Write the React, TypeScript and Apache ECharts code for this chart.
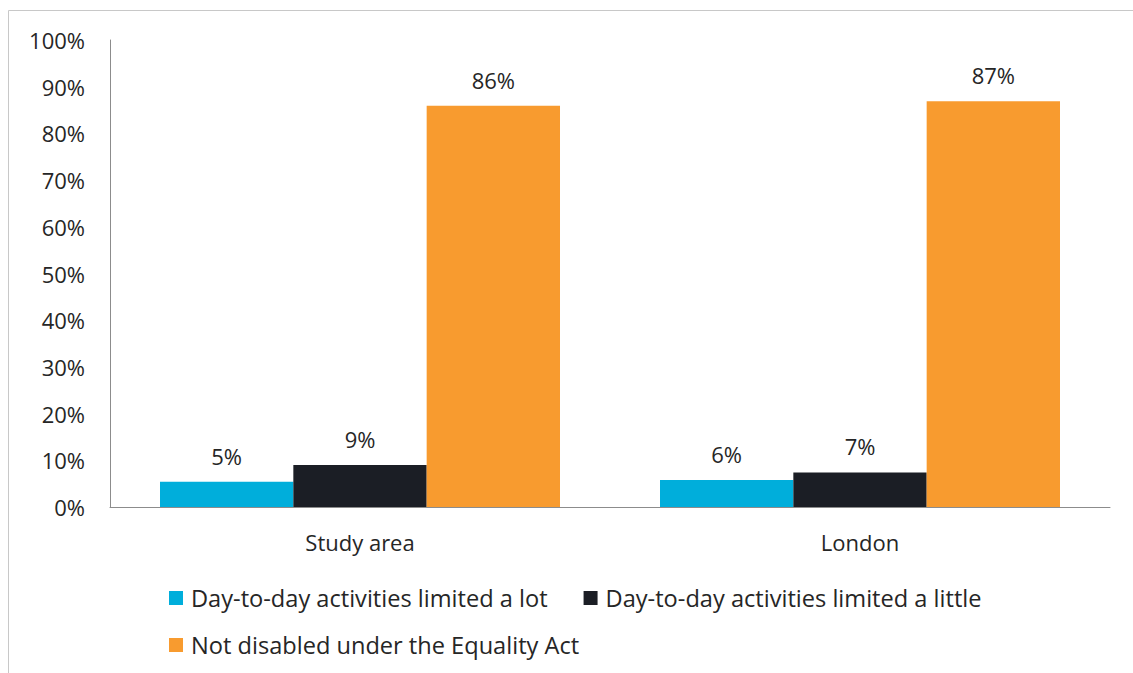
import React, { useEffect, useRef } from "react";
import * as echarts from "echarts";

const categories = ["Study area", "London"];
const limitedALot = [5.4, 5.8];
const limitedALittle = [9.0, 7.4];
const notDisabled = [85.9, 86.9];
const seriesNames = [
  "Day-to-day activities limited a lot",
  "Day-to-day activities limited a little",
  "Not disabled under the Equality Act",
];
const colors = ["#00AEDB", "#1B1E25", "#F89B2F"];

const FONT = "'Open Sans', sans-serif";
const TEXT = "#262626";

export default function App() {
  const ref = useRef<HTMLDivElement>(null);
  useEffect(() => {
    if (!ref.current) return;
    const chart = echarts.init(ref.current, null, { renderer: "svg" });
    const label = {
      show: true,
      position: "top",
      distance: 15,
      fontSize: 22,
      fontFamily: FONT,
      color: TEXT,
      formatter: (p: any) => Math.round(p.value) + "%",
    };
    const mk = (i: number, data: number[]) => ({
      name: seriesNames[i],
      type: "bar",
      data,
      itemStyle: { color: colors[i] },
      barGap: "0%",
      barCategoryGap: "20%",
      label,
    });
    const legendText = { fontSize: 23.6, color: TEXT, fontFamily: FONT, padding: [0, 0, 0, 3] };
    chart.setOption({
      animation: false,
      backgroundColor: "#fff",
      textStyle: { fontFamily: FONT },
      graphic: [
        {
          type: "rect",
          shape: { x: 8.5, y: 10.5, width: 1300, height: 900 },
          style: { fill: "none", stroke: "#C8C8C8", lineWidth: 1 },
          silent: true,
          z: -10,
        },
      ],
      grid: { left: 110, right: 23, top: 40, bottom: 166 },
      legend: [
        {
          data: [seriesNames[0], seriesNames[1]],
          left: 169,
          top: 586,
          padding: 0,
          itemWidth: 14,
          itemHeight: 14,
          itemGap: 36,
          icon: "rect",
          textStyle: legendText,
        },
        {
          data: [seriesNames[2]],
          left: 169,
          top: 633,
          padding: 0,
          itemWidth: 14,
          itemHeight: 14,
          icon: "rect",
          textStyle: legendText,
        },
      ],
      xAxis: {
        type: "category",
        data: categories,
        axisLine: { lineStyle: { color: "#8C8C8C", width: 1 } },
        axisTick: { show: false },
        axisLabel: { fontSize: 22, color: TEXT, fontFamily: FONT, margin: 24 },
      },
      yAxis: {
        type: "value",
        min: 0,
        max: 100,
        interval: 10,
        axisLine: { show: true, lineStyle: { color: "#8C8C8C", width: 1 } },
        axisTick: { show: false },
        splitLine: { show: false },
        axisLabel: {
          fontSize: 22,
          color: TEXT,
          fontFamily: FONT,
          margin: 25,
          formatter: "{value}%",
        },
      },
      series: [mk(0, limitedALot), mk(1, limitedALittle), mk(2, notDisabled)],
    });
    return () => chart.dispose();
  }, []);
  return (
    <div
      ref={ref}
      style={{ position: "absolute", left: 0, top: 0, width: 1133, height: 673 }}
    />
  );
}
